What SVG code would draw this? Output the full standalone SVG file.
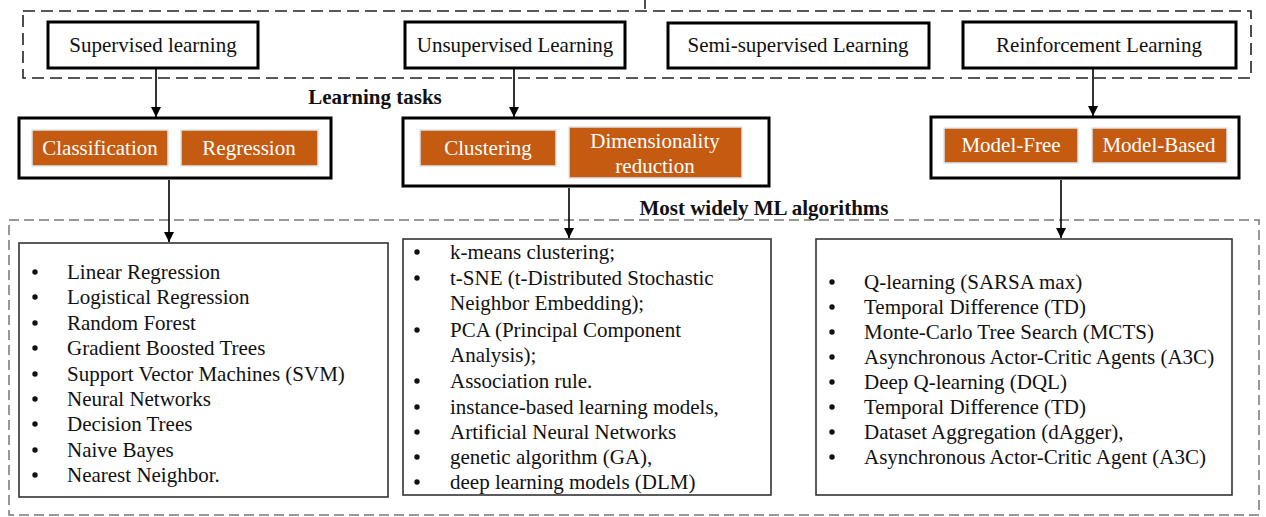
<svg xmlns="http://www.w3.org/2000/svg" width="1266" height="517" viewBox="0 0 1266 517">
<style>
text{font-family:"Liberation Serif","Times New Roman",serif;font-size:21px;fill:#111}
.c{text-anchor:middle}
.b{font-weight:bold;font-size:21px}
.w{fill:#fff}
.thick{fill:#fff;stroke:#000;stroke-width:3}
.list{fill:#fff;stroke:#333;stroke-width:1.6}
.org{fill:#C55A11;stroke:#dce6f0;stroke-width:1.5}
.dash1{fill:none;stroke:#222;stroke-width:1.6;stroke-dasharray:12 6}
.dash2{fill:none;stroke:#777;stroke-width:1.5;stroke-dasharray:10 5}
.conn{stroke:#000;stroke-width:1.6;fill:none;marker-end:url(#ah)}
.dot{fill:#111}
</style>
<defs>
<marker id="ah" viewBox="0 0 10 10" refX="10" refY="5" markerWidth="10" markerHeight="10" markerUnits="userSpaceOnUse" orient="auto">
<path d="M0,0 L10,5 L0,10 z" fill="#000"/>
</marker>
</defs>
<rect width="1266" height="517" fill="#fff"/>

<g id="frames">
<line x1="645" y1="0" x2="645" y2="9" stroke="#222" stroke-width="1.6"/>
<rect class="dash1" x="23" y="11" width="1228" height="67"/>
<rect class="dash2" x="9" y="220" width="1250" height="295"/>
<text class="b c" x="375" y="104">Learning tasks</text>
<text class="b c" x="764" y="215">Most widely ML algorithms</text>
</g>

<g id="supervised">
<rect class="thick" x="48" y="22" width="210" height="46"/>
<text class="c" x="153" y="52">Supervised learning</text>
</g>
<g id="unsupervised">
<rect class="thick" x="405" y="22" width="220" height="46"/>
<text class="c" x="515" y="52">Unsupervised Learning</text>
</g>
<g id="semi">
<rect class="thick" x="668" y="23" width="261" height="45"/>
<text class="c" x="798" y="52">Semi-supervised Learning</text>
</g>
<g id="reinforcement">
<rect class="thick" x="963" y="22" width="273" height="46"/>
<text class="c" x="1099" y="52">Reinforcement Learning</text>
</g>

<g id="tasks-supervised">
<rect class="thick" x="19" y="118" width="312" height="60"/>
<rect class="org" x="32" y="130" width="136" height="36"/>
<text class="c w" x="100" y="155">Classification</text>
<rect class="org" x="181" y="130" width="137" height="36"/>
<text class="c w" x="249" y="155">Regression</text>
</g>
<g id="tasks-unsupervised">
<rect class="thick" x="403" y="118" width="366" height="68"/>
<rect class="org" x="420" y="130" width="136" height="36"/>
<text class="c w" x="488" y="155">Clustering</text>
<rect class="org" x="569" y="127" width="173" height="51"/>
<text class="c w" x="655" y="148">Dimensionality</text>
<text class="c w" x="655" y="173">reduction</text>
</g>
<g id="tasks-reinforcement">
<rect class="thick" x="931" y="117" width="308" height="61"/>
<rect class="org" x="944" y="128" width="134" height="35"/>
<text class="c w" x="1011" y="152">Model-Free</text>
<rect class="org" x="1092" y="128" width="135" height="35"/>
<text class="c w" x="1159" y="152">Model-Based</text>
</g>

<g id="alg-supervised">
<rect class="list" x="19" y="243" width="369" height="254"/>
<g class="dot">
<circle cx="35" cy="272" r="2.7"/><circle cx="35" cy="297" r="2.7"/><circle cx="35" cy="323" r="2.7"/>
<circle cx="35" cy="348" r="2.7"/><circle cx="35" cy="374" r="2.7"/><circle cx="35" cy="399" r="2.7"/>
<circle cx="35" cy="424" r="2.7"/><circle cx="35" cy="450" r="2.7"/><circle cx="35" cy="475" r="2.7"/>
</g>
<text x="67" y="279">Linear Regression</text>
<text x="67" y="304">Logistical Regression</text>
<text x="67" y="330">Random Forest</text>
<text x="67" y="355">Gradient Boosted Trees</text>
<text x="67" y="381">Support Vector Machines (SVM)</text>
<text x="67" y="406">Neural Networks</text>
<text x="67" y="431">Decision Trees</text>
<text x="67" y="457">Naive Bayes</text>
<text x="67" y="482">Nearest Neighbor.</text>
</g>

<g id="alg-unsupervised">
<rect class="list" x="403" y="239" width="368" height="256"/>
<g class="dot">
<circle cx="417" cy="252" r="2.7"/><circle cx="417" cy="278" r="2.7"/><circle cx="417" cy="330" r="2.7"/>
<circle cx="417" cy="381" r="2.7"/><circle cx="417" cy="407" r="2.7"/><circle cx="417" cy="432" r="2.7"/>
<circle cx="417" cy="457" r="2.7"/><circle cx="417" cy="482" r="2.7"/>
</g>
<text x="450" y="259">k-means clustering;</text>
<text x="450" y="285">t-SNE (t-Distributed Stochastic</text>
<text x="450" y="310">Neighbor Embedding);</text>
<text x="450" y="337">PCA (Principal Component</text>
<text x="450" y="362">Analysis);</text>
<text x="450" y="388">Association rule.</text>
<text x="450" y="414">instance-based learning models,</text>
<text x="450" y="439">Artificial Neural Networks</text>
<text x="450" y="464">genetic algorithm (GA),</text>
<text x="450" y="489">deep learning models (DLM)</text>
</g>

<g id="alg-reinforcement">
<rect class="list" x="816" y="239" width="416" height="256"/>
<g class="dot">
<circle cx="832" cy="282" r="2.7"/><circle cx="832" cy="307" r="2.7"/><circle cx="832" cy="332" r="2.7"/>
<circle cx="832" cy="357" r="2.7"/><circle cx="832" cy="382" r="2.7"/><circle cx="832" cy="407" r="2.7"/>
<circle cx="832" cy="432" r="2.7"/><circle cx="832" cy="457" r="2.7"/>
</g>
<text x="864" y="289">Q-learning (SARSA max)</text>
<text x="864" y="314">Temporal Difference (TD)</text>
<text x="864" y="339">Monte-Carlo Tree Search (MCTS)</text>
<text x="864" y="364">Asynchronous Actor-Critic Agents (A3C)</text>
<text x="864" y="389">Deep Q-learning (DQL)</text>
<text x="864" y="414">Temporal Difference (TD)</text>
<text x="864" y="439">Dataset Aggregation (dAgger),</text>
<text x="864" y="464">Asynchronous Actor-Critic Agent (A3C)</text>
</g>

<g id="connectors">
<line class="conn" x1="156" y1="69" x2="156" y2="117"/>
<line class="conn" x1="514" y1="69" x2="514" y2="117"/>
<line class="conn" x1="1093" y1="69" x2="1093" y2="116"/>
<line class="conn" x1="169" y1="180" x2="169" y2="242"/>
<line class="conn" x1="569" y1="188" x2="569" y2="238"/>
<line class="conn" x1="1061" y1="180" x2="1061" y2="238"/>
</g>
</svg>
